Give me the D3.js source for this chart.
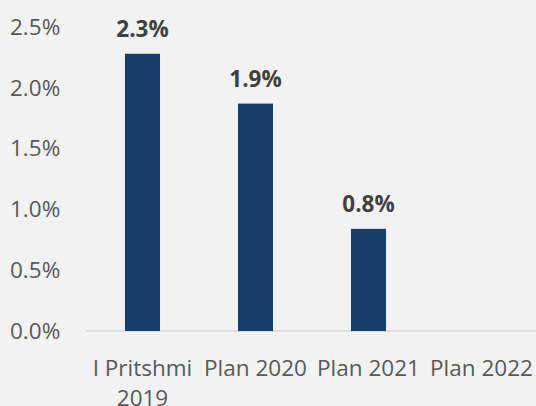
<!DOCTYPE html>
<meta charset="utf-8">
<html>
    <head>
        <script src="https://d3js.org/d3.v7.min.js"></script>
    </head>
    <style>
        body { margin: 0; background: #f2f2f2; }
        text { font-family: "Open Sans", sans-serif; }
    </style>
    <body>
        <div id="bar_viz"></div>
        <script>
            var categories = [["I Pritshmi", "2019"], ["Plan 2020"], ["Plan 2021"], ["Plan 2022"]];
            var values = [2.28, 1.87, 0.84, null];
            var valueLabels = ["2.3%", "1.9%", "0.8%", ""];
            var yTicks = [0, 0.5, 1.0, 1.5, 2.0, 2.5];

            var width = 536, height = 406;
            var marginLeft = 86, marginRight = -2, marginTop = 27, marginBottom = 75;

            var keys = categories.map(c => c.join(" "));

            var x = d3.scaleBand(keys, [marginLeft, width - marginRight]).paddingInner(0.69).paddingOuter(0.345);
            var y = d3.scaleLinear([0, 2.5], [height - marginBottom, marginTop]);

            var svg = d3.select("#bar_viz")
                .append("svg")
                .attr("width", width)
                .attr("height", height)
                .attr("viewBox", [0, 0, width, height]);

            svg.append("rect").attr("width", width).attr("height", height).attr("fill", "#f2f2f2");

            // y axis labels, left aligned
            svg.append("g")
                .attr("transform", "translate(10,0)")
                .call(d3.axisLeft(y).tickValues(yTicks).tickFormat(d => d.toFixed(1) + "%").tickSize(0))
                .call(g => g.select(".domain").remove())
                .call(g => g.selectAll("text")
                    .attr("x", 0)
                    .attr("text-anchor", "start")
                    .attr("fill", "#595959")
                    .attr("font-size", 22.5)
                    .attr("font-family", "'Open Sans', sans-serif"));

            // baseline
            svg.append("line")
                .attr("x1", marginLeft).attr("x2", width)
                .attr("y1", y(0)).attr("y2", y(0))
                .attr("stroke", "#d9d9d9").attr("stroke-width", 1.5);

            var I = d3.range(keys.length).filter(i => values[i] != null);

            svg.append("g")
                .attr("fill", "#173e6b")
                .selectAll("rect")
                .data(I)
                .join("rect")
                .attr("x", i => x(keys[i]))
                .attr("y", i => y(values[i]))
                .attr("height", i => y(0) - y(values[i]))
                .attr("width", x.bandwidth());

            svg.append("g")
                .selectAll("text")
                .data(I)
                .join("text")
                .attr("x", i => x(keys[i]) + x.bandwidth() / 2)
                .attr("y", i => y(values[i]) - 17)
                .attr("text-anchor", "middle")
                .attr("font-weight", "bold")
                .attr("font-size", 22.5)
                .attr("fill", "#404040")
                .text(i => valueLabels[i]);

            // x axis labels (wrapped)
            var xl = svg.append("g")
                .selectAll("text")
                .data(categories)
                .join("text")
                .attr("x", (d, i) => x(keys[i]) + x.bandwidth() / 2)
                .attr("y", y(0) + 45)
                .attr("text-anchor", "middle")
                .attr("font-size", 22.5)
                .attr("fill", "#595959");
            xl.selectAll("tspan")
                .data(d => d)
                .join("tspan")
                .attr("x", function () { return this.parentNode.getAttribute("x"); })
                .attr("dy", (d, j) => j === 0 ? 0 : 30)
                .text(d => d);
        </script>
    </body>
</html>
